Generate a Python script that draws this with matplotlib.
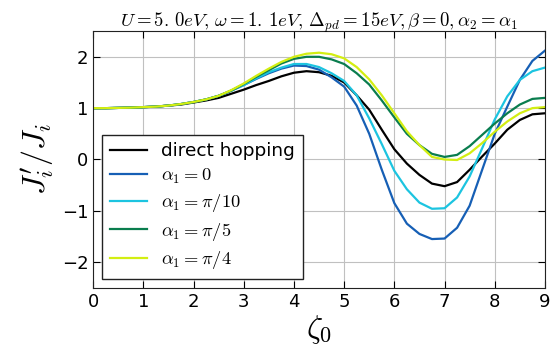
import numpy as np
import matplotlib
matplotlib.use('Agg')
import matplotlib.pyplot as plt

plt.rcParams['mathtext.fontset'] = 'cm'

# zeta_0 grid
zeta = [0, 0.25, 0.5, 0.75, 1, 1.25, 1.5, 1.75, 2, 2.25, 2.5, 2.75,
        3, 3.25, 3.5, 3.75, 4, 4.25, 4.5, 4.75, 5, 5.25, 5.5, 5.75,
        6, 6.25, 6.5, 6.75, 7, 7.25, 7.5, 7.75, 8, 8.25, 8.5, 8.75, 9]

# J'_i / J_i
direct = [1.0, 1.0, 1.005, 1.01, 1.02, 1.03, 1.05, 1.07, 1.11, 1.15, 1.2, 1.28,
          1.36, 1.45, 1.53, 1.62, 1.69, 1.72, 1.7, 1.63, 1.5, 1.25, 0.97, 0.58,
          0.2, -0.08, -0.3, -0.47, -0.52, -0.44, -0.2, 0.06, 0.31, 0.58, 0.77, 0.88, 0.9]
a_0 = [1.0, 1.0, 1.005, 1.01, 1.02, 1.03, 1.05, 1.08, 1.12, 1.17, 1.24, 1.34,
       1.45, 1.57, 1.68, 1.77, 1.83, 1.82, 1.75, 1.6, 1.42, 1.05, 0.5, -0.2,
       -0.85, -1.25, -1.45, -1.55, -1.54, -1.33, -0.9, -0.2, 0.5, 1.03, 1.55, 1.92, 2.12]
a_pi10 = [1.0, 1.0, 1.005, 1.01, 1.02, 1.03, 1.05, 1.08, 1.12, 1.17, 1.24, 1.34,
          1.45, 1.58, 1.7, 1.79, 1.86, 1.86, 1.8, 1.68, 1.53, 1.25, 0.8, 0.3,
          -0.22, -0.58, -0.84, -0.96, -0.95, -0.74, -0.33, 0.22, 0.78, 1.23, 1.55, 1.72, 1.79]
a_pi5 = [1.0, 1.0, 1.005, 1.01, 1.02, 1.03, 1.05, 1.08, 1.12, 1.17, 1.24, 1.34,
         1.47, 1.61, 1.74, 1.87, 1.96, 2.0, 2.0, 1.95, 1.86, 1.68, 1.46, 1.15,
         0.82, 0.5, 0.28, 0.11, 0.05, 0.09, 0.26, 0.48, 0.7, 0.9, 1.07, 1.18, 1.2]
a_pi4 = [1.0, 1.0, 1.005, 1.01, 1.02, 1.03, 1.05, 1.08, 1.12, 1.17, 1.24, 1.35,
         1.48, 1.63, 1.77, 1.9, 2.0, 2.06, 2.08, 2.05, 1.97, 1.8, 1.56, 1.25,
         0.9, 0.55, 0.28, 0.05, 0.0, -0.01, 0.12, 0.32, 0.54, 0.74, 0.9, 1.0, 1.02]

labels = ['direct hopping', r'$\alpha_1=0$', r'$\alpha_1=\pi/10$',
          r'$\alpha_1=\pi/5$', r'$\alpha_1=\pi/4$']
colors = ['black', '#165fb5', '#1cc4e0', '#0a7d4e', '#d3ee12']

fig = plt.figure(figsize=(5.51, 3.58), dpi=100)
ax = fig.add_axes([0.169, 0.196, 0.82, 0.717])

for ys, lab, c in zip([direct, a_0, a_pi10, a_pi5, a_pi4], labels, colors):
    ax.plot(zeta, ys, color=c, lw=1.6, label=lab)

ax.set_xlim(0, 9)
ax.set_ylim(-2.5, 2.5)
ax.set_xticks(range(10))
ax.set_yticks([-2, -1, 0, 1, 2])
ax.grid(True, color='#c0c0c0', lw=0.8)
ax.tick_params(direction='in', top=True, right=True, labelsize=13, length=5)
for s in ax.spines.values():
    s.set_color('#222222')

ax.set_title(r'$U=5.\,0eV,\,\omega=1.\,1eV,\,\Delta_{pd}=15eV,\beta=0,\alpha_2=\alpha_1$',
             fontsize=13.5, pad=3)
ax.set_xlabel(r'$\zeta_0$', fontsize=23, labelpad=2)
ax.set_ylabel(r"$J_i'/J_i$", fontsize=23, labelpad=4)

leg = ax.legend(loc='lower left', bbox_to_anchor=(0.0, 0.0), borderaxespad=0.5,
                fontsize=13.3, fancybox=False, framealpha=1, edgecolor='#222222',
                handlelength=2.0, borderpad=0.4, labelspacing=0.35)
leg.get_frame().set_linewidth(1.0)

fig.savefig('out.png', dpi=100)
